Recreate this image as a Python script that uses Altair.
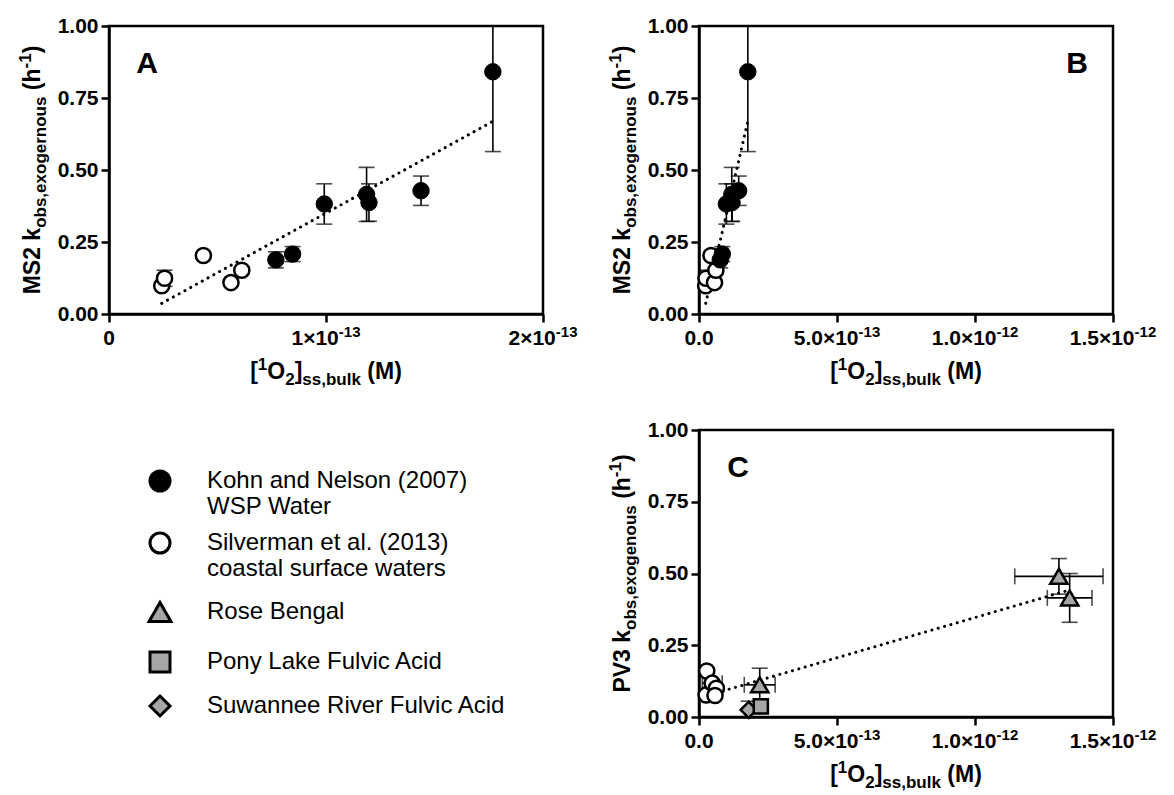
import altair as alt
import pandas as pd

FONT = "Liberation Sans, Arial, Helvetica, sans-serif"

# ---------------- data ----------------
# MS2 (panels A and B)
kohn_x = [0.769e-13, 0.846e-13, 0.992e-13, 1.187e-13, 1.198e-13, 1.438e-13, 1.769e-13]
kohn_y = [0.188, 0.208, 0.382, 0.415, 0.387, 0.428, 0.841]
kohn_yerr = [0.028, 0.026, 0.070, 0.094, 0.065, 0.051, 0.277]
silv_ms2_x = [0.243e-13, 0.256e-13, 0.435e-13, 0.562e-13, 0.612e-13]
silv_ms2_y = [0.098, 0.124, 0.203, 0.109, 0.152]
silv_ms2_yerr = [0.0, 0.028, 0.0, 0.0, 0.0]
ms2_fit_x = [0.243e-13, 1.769e-13]
ms2_fit_y = [0.037, 0.669]

# PV3 (panel C)
silv_pv3_x = [0.28e-13, 0.26e-13, 0.48e-13, 0.63e-13, 0.58e-13]
silv_pv3_y = [0.160, 0.077, 0.118, 0.100, 0.075]
silv_pv3_xerr = [0.0, 0.0, 0.36e-13, 0.0, 0.0]
silv_pv3_yerr = [0.0, 0.0, 0.0, 0.0, 0.0]
rose_x = [2.20e-13, 1.304e-12, 1.343e-12]
rose_y = [0.112, 0.490, 0.415]
rose_xerr = [0.56e-13, 1.60e-13, 0.81e-13]
rose_yerr = [0.058, 0.062, 0.085]
pony_x = [2.24e-13]
pony_y = [0.037]
pony_xerr = [0.0]
pony_yerr = [0.015]
suw_x = [1.80e-13]
suw_y = [0.025]
suw_xerr = [0.0]
suw_yerr = [0.030]
pv3_fit_x = [0.63e-13, 1.33e-12]
pv3_fit_y = [0.084, 0.439]

# ticks / labels (mantissa part and superscript exponent)
y_ticks = [0.0, 0.25, 0.5, 0.75, 1.0]
a_x_ticks = [0.0, 1e-13, 2e-13]
a_x_main = ["0", "1×10", "2×10"]
a_x_sup = ["", "-13", "-13"]
bc_x_ticks = [0.0, 5e-13, 1e-12, 1.5e-12]
bc_x_main = ["0.0", "5.0×10", "1.0×10", "1.5×10"]
bc_x_sup = ["", "-13", "-12", "-12"]

# legend
legend_line1 = ["Kohn and Nelson (2007)", "Silverman et al. (2013)", "Rose Bengal",
                "Pony Lake Fulvic Acid", "Suwannee River Fulvic Acid"]
legend_line2 = ["WSP Water", "coastal surface waters", "", "", ""]
legend_shapes = ["circle", "circle", "triangle-up", "square", "diamond"]

GRAY = "#a6a6a6"
legend_fills = ["black", "white", GRAY, GRAY, GRAY]

# ---------------- layout constants ----------------
A_W, A_H = 434, 288
B_W, B_H = 414, 288
C_W, C_H = 414, 287
TITLE_SIZE = 23
SUB_SIZE = 17
TICK_FONT = 21
TICK_SUP = 15
LEG_FONT = 24
LW = 2.5

BOLD_W = {" ": 278, "(": 333, ")": 333, "[": 333, "]": 333, ",": 278, "-": 333, ".": 278,
          "×": 584, "M": 833, "S": 667, "P": 667, "V": 667, "O": 778, "b": 611, "e": 556,
          "g": 611, "h": 611, "k": 556, "l": 278, "n": 611, "o": 611, "r": 389,
          "s": 556, "u": 611, "x": 556}


def tw(s, size):
    return sum(BOLD_W.get(c, 556) for c in s) / 1000.0 * size


one = pd.DataFrame({"k": [0]})


def rich(pieces, center, offset, vertical):
    """pieces: list of (text, kind) kind in n/sub/sup. Leading spaces advance the pen."""
    sizes = {"n": TITLE_SIZE, "sub": SUB_SIZE, "sup": SUB_SIZE}
    shift = {"n": 0, "sub": 6, "sup": -9}
    total = sum(tw(t, sizes[k]) for t, k in pieces)
    layers = []
    pos = center + total / 2 if vertical else center - total / 2
    for t, k in pieces:
        lead = len(t) - len(t.lstrip(" "))
        adv = tw(" " * lead, sizes[k])
        pos = pos - adv if vertical else pos + adv
        t = t.lstrip(" ")
        w = tw(t, sizes[k])
        if vertical:
            enc = dict(x=alt.value(offset + shift[k]), y=alt.value(pos))
            ang = 270
            pos -= w
        else:
            enc = dict(x=alt.value(pos), y=alt.value(offset + shift[k]))
            ang = 0
            pos += w
        layers.append(
            alt.Chart(one).mark_text(text=t, font=FONT, fontWeight="bold", fontSize=sizes[k],
                                     align="left", baseline="alphabetic", angle=ang,
                                     color="black").encode(**enc)
        )
    return layers


def xenc(field, xmax, ticks):
    return alt.X(field, type="quantitative",
                 scale=alt.Scale(domain=[0, xmax], nice=False, zero=False),
                 axis=alt.Axis(values=ticks, labels=False, title=None, grid=False))


def yenc(field):
    return alt.Y(field, type="quantitative",
                 scale=alt.Scale(domain=[0, 1], nice=False, zero=False),
                 axis=alt.Axis(values=y_ticks, format=".2f", title=None, grid=False))


def x_tick_labels(h, xmax, ticks, mains, sups):
    df = pd.DataFrame({"v": ticks, "main": mains, "sup": sups})
    X = xenc("v:Q", xmax, ticks)
    plain = df[df["sup"] == ""]
    expo = df[df["sup"] != ""]
    w_main = tw(expo["main"].iloc[0], TICK_FONT)
    w_sup = tw(expo["sup"].iloc[0], TICK_SUP)
    d = -(w_main + w_sup) / 2 + w_main
    common = dict(font=FONT, fontWeight="bold", color="black", baseline="alphabetic")
    l0 = alt.Chart(plain).mark_text(align="center", fontSize=TICK_FONT, **common).encode(
        x=X, y=alt.value(h + 31), text="main:N")
    l1 = alt.Chart(expo).mark_text(align="right", dx=d, fontSize=TICK_FONT, **common).encode(
        x=X, y=alt.value(h + 31), text="main:N")
    l2 = alt.Chart(expo).mark_text(align="left", dx=d, fontSize=TICK_SUP, **common).encode(
        x=X, y=alt.value(h + 23), text="sup:N")
    return [l0, l1, l2]


def x_title(w, h):
    return rich([("[", "n"), ("1", "sup"), ("O", "n"), ("2", "sub"), ("]", "n"),
                 ("ss,bulk", "sub"), (" (M)", "n")], w / 2, h + 65, False)


def y_title(h, virus, sub):
    return rich([(virus + " k", "n"), (sub, "sub"), (" (h", "n"), ("-1", "sup"), (")", "n")],
                h / 2, -69, True)


def letter(t, x, y):
    return alt.Chart(one).mark_text(text=t, font=FONT, fontWeight="bold", fontSize=30,
                                    align="center", baseline="middle", color="black").encode(
        x=alt.value(x), y=alt.value(y))


def vbars(df, X, cap=16):
    d = df[df["yerr"] > 0]
    base = alt.Chart(d).transform_calculate(lo="datum.y - datum.yerr", hi="datum.y + datum.yerr")
    r = base.mark_rule(color="black", strokeWidth=1.6, clip=True).encode(
        x=X, y=yenc("lo:Q"), y2="hi:Q")
    t1 = base.mark_tick(color="black", orient="horizontal", size=cap, thickness=1.6, clip=True).encode(
        x=X, y=yenc("lo:Q"))
    t2 = base.mark_tick(color="black", orient="horizontal", size=cap, thickness=1.6, clip=True).encode(
        x=X, y=yenc("hi:Q"))
    return [r, t1, t2]


def hbars(df, xmax, ticks, cap=16):
    d = df[df["xerr"] > 0]
    base = alt.Chart(d).transform_calculate(lo="datum.x - datum.xerr", hi="datum.x + datum.xerr")
    r = base.mark_rule(color="black", strokeWidth=1.6, clip=True).encode(
        x=xenc("lo:Q", xmax, ticks), x2="hi:Q", y=yenc("y:Q"))
    t1 = base.mark_tick(color="black", orient="vertical", size=cap, thickness=1.6, clip=True).encode(
        x=xenc("lo:Q", xmax, ticks), y=yenc("y:Q"))
    t2 = base.mark_tick(color="black", orient="vertical", size=cap, thickness=1.6, clip=True).encode(
        x=xenc("hi:Q", xmax, ticks), y=yenc("y:Q"))
    return [r, t1, t2]


ms2_df = pd.concat([
    pd.DataFrame({"x": kohn_x, "y": kohn_y, "yerr": kohn_yerr, "series": "Kohn"}),
    pd.DataFrame({"x": silv_ms2_x, "y": silv_ms2_y, "yerr": silv_ms2_yerr, "series": "Silverman"}),
], ignore_index=True)
ms2_fit = pd.DataFrame({"x": ms2_fit_x, "y": ms2_fit_y})


def ms2_panel(w, h, xmax, ticks, mains, sups, let, lx):
    X = xenc("x:Q", xmax, ticks)
    Y = yenc("y:Q")
    line = alt.Chart(ms2_fit).mark_line(color="black", strokeWidth=3, strokeDash=[0.1, 6.5],
                                        strokeCap="round", clip=True).encode(x=X, y=Y)
    pts_open = alt.Chart(ms2_df[ms2_df.series == "Silverman"]).mark_point(
        shape="circle", filled=True, fill="white", stroke="black", strokeWidth=2.5,
        size=230, opacity=1).encode(x=X, y=Y)
    pts_fill = alt.Chart(ms2_df[ms2_df.series == "Kohn"]).mark_point(
        shape="circle", filled=True, fill="black", stroke="black", strokeWidth=1,
        size=270, opacity=1).encode(x=X, y=Y)
    layers = [line] + vbars(ms2_df, X) + [pts_open, pts_fill]
    layers += x_tick_labels(h, xmax, ticks, mains, sups)
    layers += x_title(w, h) + y_title(h, "MS2", "obs,exogernous") + [letter(let, lx, 38)]
    return alt.layer(*layers).properties(width=w, height=h)


panel_a = ms2_panel(A_W, A_H, 2e-13, a_x_ticks, a_x_main, a_x_sup, "A", 38)
panel_b = ms2_panel(B_W, B_H, 1.5e-12, bc_x_ticks, bc_x_main, bc_x_sup, "B", 378)

# panel C
pv3_df = pd.concat([
    pd.DataFrame({"x": silv_pv3_x, "y": silv_pv3_y, "xerr": silv_pv3_xerr, "yerr": silv_pv3_yerr, "series": "Silverman"}),
    pd.DataFrame({"x": suw_x, "y": suw_y, "xerr": suw_xerr, "yerr": suw_yerr, "series": "Suwannee"}),
    pd.DataFrame({"x": pony_x, "y": pony_y, "xerr": pony_xerr, "yerr": pony_yerr, "series": "Pony"}),
    pd.DataFrame({"x": rose_x, "y": rose_y, "xerr": rose_xerr, "yerr": rose_yerr, "series": "Rose"}),
], ignore_index=True)
pv3_fit = pd.DataFrame({"x": pv3_fit_x, "y": pv3_fit_y})

Xc = xenc("x:Q", 1.5e-12, bc_x_ticks)
Yc = yenc("y:Q")
c_line = alt.Chart(pv3_fit).mark_line(color="black", strokeWidth=3, strokeDash=[0.1, 6.5],
                                      strokeCap="round", clip=True).encode(x=Xc, y=Yc)


def pts(series, shape, fill, size):
    return alt.Chart(pv3_df[pv3_df.series == series]).mark_point(
        shape=shape, filled=True, fill=fill, stroke="black", strokeWidth=2.5, size=size,
        opacity=1).encode(x=Xc, y=Yc)


c_layers = [c_line] + vbars(pv3_df, Xc) + hbars(pv3_df, 1.5e-12, bc_x_ticks)
c_layers += [pts("Silverman", "circle", "white", 230), pts("Suwannee", "diamond", GRAY, 260),
             pts("Pony", "square", GRAY, 200), pts("Rose", "triangle-up", GRAY, 300)]
c_layers += x_tick_labels(C_H, 1.5e-12, bc_x_ticks, bc_x_main, bc_x_sup)
c_layers += x_title(C_W, C_H) + y_title(C_H, "PV3", "obs,exogenous") + [letter("C", 39, 38)]
panel_c = alt.layer(*c_layers).properties(width=C_W, height=C_H)

# legend panel
leg_df = pd.DataFrame({"line1": legend_line1, "line2": legend_line2,
                       "shape": legend_shapes, "fill": legend_fills})
leg_y = [51, 113, 182, 232, 276]
leg_layers = []
for i in range(len(legend_line1)):
    sub = leg_df.iloc[[i]]
    leg_layers.append(alt.Chart(sub).mark_point(
        shape=legend_shapes[i], filled=True, fill=legend_fills[i], stroke="black",
        strokeWidth=3, size=400 if legend_shapes[i] != "triangle-up" else 480, opacity=1).encode(
        x=alt.value(51), y=alt.value(leg_y[i])))
    leg_layers.append(alt.Chart(sub).mark_text(
        font=FONT, fontSize=LEG_FONT, align="left", baseline="middle", color="black").encode(
        text="line1:N", x=alt.value(98), y=alt.value(leg_y[i])))
    if legend_line2[i]:
        leg_layers.append(alt.Chart(sub).mark_text(
            font=FONT, fontSize=LEG_FONT, align="left", baseline="middle", color="black").encode(
            text="line2:N", x=alt.value(98), y=alt.value(leg_y[i] + 26)))
legend = alt.layer(*leg_layers, view=alt.ViewBackground(stroke="transparent")).properties(
    width=A_W, height=C_H)

chart = alt.concat(panel_a, panel_b, legend, panel_c, columns=2,
                   spacing=alt.RowColnumber(row=116, column=156),
                   bounds="flush",
                   padding={"left": 15, "top": 13, "right": 5, "bottom": 0}).configure(
    font=FONT
).configure_view(
    stroke="black", strokeWidth=LW
).configure_axis(
    domainColor="black", domainWidth=LW, tickColor="black", tickWidth=LW, tickSize=8,
    labelFont=FONT, labelFontWeight="bold", labelFontSize=TICK_FONT, labelColor="black",
    labelPadding=3
)

chart.save("out.html", embed_options={"renderer": "svg", "actions": False})
